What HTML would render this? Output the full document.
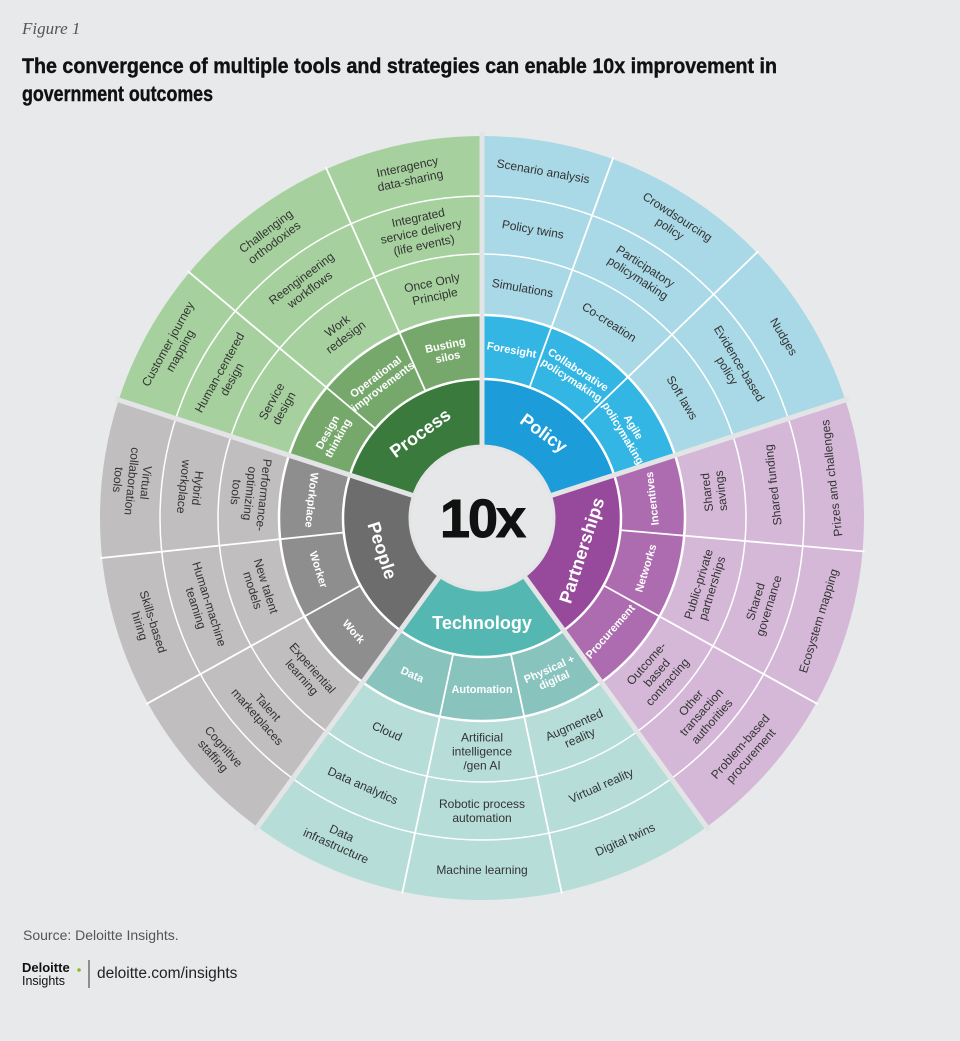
<!DOCTYPE html>
<html><head><meta charset="utf-8"><style>
html,body{margin:0;padding:0;background:#e8e9ea;}
svg{display:block;}
.o{font-family:"Liberation Sans",sans-serif;font-size:12px;fill:#333;text-anchor:middle;}
.s{font-family:"Liberation Sans",sans-serif;font-size:11px;font-weight:bold;fill:#fff;text-anchor:middle;}
.i{font-family:"Liberation Sans",sans-serif;font-size:18px;font-weight:bold;fill:#fff;text-anchor:middle;}
</style></head><body>
<svg width="960" height="1041" viewBox="0 0 960 1041" xmlns="http://www.w3.org/2000/svg">
<rect width="960" height="1041" fill="#e8e9ea"/>
<text x="22" y="34" font-family="Liberation Serif,serif" font-style="italic" font-size="17" fill="#555">Figure 1</text>
<text x="22" y="73" font-family="Liberation Sans,sans-serif" font-weight="bold" font-size="21" fill="#111" stroke="#111" stroke-width="0.4" textLength="755" lengthAdjust="spacingAndGlyphs">The convergence of multiple tools and strategies can enable 10x improvement in</text>
<text x="22" y="101" font-family="Liberation Sans,sans-serif" font-weight="bold" font-size="21" fill="#111" stroke="#111" stroke-width="0.4" textLength="191" lengthAdjust="spacingAndGlyphs">government outcomes</text>

<g fill="none">
<circle cx="482" cy="518" r="105" stroke="#3a7a3c" stroke-width="68" pathLength="360" stroke-dasharray="72 288" transform="rotate(198 482 518)"/>
<circle cx="482" cy="518" r="171" stroke="#76a86c" stroke-width="64" pathLength="360" stroke-dasharray="72 288" transform="rotate(198 482 518)"/>
<circle cx="482" cy="518" r="292.5" stroke="#a6d19e" stroke-width="179" pathLength="360" stroke-dasharray="72 288" transform="rotate(198 482 518)"/>
<circle cx="482" cy="518" r="105" stroke="#1c9cd8" stroke-width="68" pathLength="360" stroke-dasharray="72 288" transform="rotate(-90 482 518)"/>
<circle cx="482" cy="518" r="171" stroke="#33b6e3" stroke-width="64" pathLength="360" stroke-dasharray="72 288" transform="rotate(-90 482 518)"/>
<circle cx="482" cy="518" r="292.5" stroke="#a9d9e6" stroke-width="179" pathLength="360" stroke-dasharray="72 288" transform="rotate(-90 482 518)"/>
<circle cx="482" cy="518" r="105" stroke="#974a9c" stroke-width="68" pathLength="360" stroke-dasharray="72 288" transform="rotate(-18 482 518)"/>
<circle cx="482" cy="518" r="171" stroke="#ad6caf" stroke-width="64" pathLength="360" stroke-dasharray="72 288" transform="rotate(-18 482 518)"/>
<circle cx="482" cy="518" r="292.5" stroke="#d5b8d8" stroke-width="179" pathLength="360" stroke-dasharray="72 288" transform="rotate(-18 482 518)"/>
<circle cx="482" cy="518" r="105" stroke="#55b7b1" stroke-width="68" pathLength="360" stroke-dasharray="72 288" transform="rotate(54 482 518)"/>
<circle cx="482" cy="518" r="171" stroke="#88c3bd" stroke-width="64" pathLength="360" stroke-dasharray="72 288" transform="rotate(54 482 518)"/>
<circle cx="482" cy="518" r="292.5" stroke="#b6ddd8" stroke-width="179" pathLength="360" stroke-dasharray="72 288" transform="rotate(54 482 518)"/>
<circle cx="482" cy="518" r="105" stroke="#6d6d6d" stroke-width="68" pathLength="360" stroke-dasharray="72 288" transform="rotate(126 482 518)"/>
<circle cx="482" cy="518" r="171" stroke="#8e8e8e" stroke-width="64" pathLength="360" stroke-dasharray="72 288" transform="rotate(126 482 518)"/>
<circle cx="482" cy="518" r="292.5" stroke="#c0bebf" stroke-width="179" pathLength="360" stroke-dasharray="72 288" transform="rotate(126 482 518)"/>
<circle cx="482" cy="518" r="139" stroke="#fff" stroke-width="2.5"/>
<circle cx="482" cy="518" r="203" stroke="#fff" stroke-width="2.5"/>
<circle cx="482" cy="518" r="264" stroke="#fff" stroke-width="1.5"/>
<circle cx="482" cy="518" r="322" stroke="#fff" stroke-width="1.5"/>
</g>

<g stroke="#fff" stroke-width="1.8">
<line x1="482" y1="379" x2="482" y2="134" transform="rotate(310 482 518)"/>
<line x1="482" y1="379" x2="482" y2="134" transform="rotate(336 482 518)"/>
<line x1="482" y1="379" x2="482" y2="134" transform="rotate(20 482 518)"/>
<line x1="482" y1="379" x2="482" y2="134" transform="rotate(46 482 518)"/>
<line x1="482" y1="379" x2="482" y2="134" transform="rotate(95 482 518)"/>
<line x1="482" y1="379" x2="482" y2="134" transform="rotate(119 482 518)"/>
<line x1="482" y1="379" x2="482" y2="134" transform="rotate(168 482 518)"/>
<line x1="482" y1="379" x2="482" y2="134" transform="rotate(192 482 518)"/>
<line x1="482" y1="379" x2="482" y2="134" transform="rotate(241 482 518)"/>
<line x1="482" y1="379" x2="482" y2="134" transform="rotate(264 482 518)"/>
</g>
<g stroke="#e3e4e5" stroke-width="5">
<line x1="482" y1="447" x2="482" y2="132" transform="rotate(0 482 518)"/>
<line x1="482" y1="447" x2="482" y2="132" transform="rotate(72 482 518)"/>
<line x1="482" y1="447" x2="482" y2="132" transform="rotate(144 482 518)"/>
<line x1="482" y1="447" x2="482" y2="132" transform="rotate(216 482 518)"/>
<line x1="482" y1="447" x2="482" y2="132" transform="rotate(288 482 518)"/>
</g>
<circle cx="482" cy="518" r="72" fill="#e6e7e8" stroke="#e3e4e5" stroke-width="3"/>
<text x="482" y="537" font-family="Liberation Sans,sans-serif" font-weight="bold" font-size="54" fill="#111" stroke="#111" stroke-width="1" text-anchor="middle" letter-spacing="-2">10x</text>

<text class="i" transform="rotate(324 482 518) translate(482 413)" dy="6">Process</text>
<text class="i" transform="rotate(36 482 518) translate(482 413)" dy="6">Policy</text>
<text class="i" transform="rotate(108 482 518) translate(482 413) rotate(180)" dy="6">Partnerships</text>
<text class="i" transform="rotate(180 482 518) translate(482 413) rotate(180)" dy="6">Technology</text>
<text class="i" transform="rotate(252 482 518) translate(482 413) rotate(180)" dy="6">People</text>

<text class="s" transform="rotate(299 482 518) translate(482 347)"><tspan x="0" dy="-2">Design</tspan><tspan x="0" dy="12">thinking</tspan></text>
<text class="s" transform="rotate(323 482 518) translate(482 347)"><tspan x="0" dy="-2">Operational</tspan><tspan x="0" dy="12">improvements</tspan></text>
<text class="s" transform="rotate(348 482 518) translate(482 347)"><tspan x="0" dy="-2">Busting</tspan><tspan x="0" dy="12">silos</tspan></text>
<text class="s" transform="rotate(10 482 518) translate(482 347)" dy="4">Foresight</text>
<text class="s" transform="rotate(33 482 518) translate(482 347)"><tspan x="0" dy="-2">Collaborative</tspan><tspan x="0" dy="12">policymaking</tspan></text>
<text class="s" transform="rotate(59 482 518) translate(482 347)"><tspan x="0" dy="-2">Agile</tspan><tspan x="0" dy="12">policymaking</tspan></text>
<text class="s" transform="rotate(83.5 482 518) translate(482 347) rotate(180)" dy="4">Incentives</text>
<text class="s" transform="rotate(107 482 518) translate(482 347) rotate(180)" dy="4">Networks</text>
<text class="s" transform="rotate(131.5 482 518) translate(482 347) rotate(180)" dy="4">Procurement</text>
<text class="s" transform="rotate(156 482 518) translate(482 347) rotate(180)"><tspan x="0" dy="-2">Physical +</tspan><tspan x="0" dy="12">digital</tspan></text>
<text class="s" transform="rotate(180 482 518) translate(482 347) rotate(180)" dy="4">Automation</text>
<text class="s" transform="rotate(204 482 518) translate(482 347) rotate(180)" dy="4">Data</text>
<text class="s" transform="rotate(228.5 482 518) translate(482 347) rotate(180)" dy="4">Work</text>
<text class="s" transform="rotate(252.5 482 518) translate(482 347) rotate(180)" dy="4">Worker</text>
<text class="s" transform="rotate(276 482 518) translate(482 347) rotate(180)" dy="4">Workplace</text>

<text class="o" transform="rotate(299 482 518) translate(482 284.5)"><tspan x="0" dy="-3">Service</tspan><tspan x="0" dy="14">design</tspan></text>
<text class="o" transform="rotate(299 482 518) translate(482 225)"><tspan x="0" dy="-3">Human-centered</tspan><tspan x="0" dy="14">design</tspan></text>
<text class="o" transform="rotate(299 482 518) translate(482 166)"><tspan x="0" dy="-3">Customer journey</tspan><tspan x="0" dy="14">mapping</tspan></text>
<text class="o" transform="rotate(323 482 518) translate(482 284.5)"><tspan x="0" dy="-3">Work</tspan><tspan x="0" dy="14">redesign</tspan></text>
<text class="o" transform="rotate(323 482 518) translate(482 225)"><tspan x="0" dy="-3">Reengineering</tspan><tspan x="0" dy="14">workflows</tspan></text>
<text class="o" transform="rotate(323 482 518) translate(482 166)"><tspan x="0" dy="-3">Challenging</tspan><tspan x="0" dy="14">orthodoxies</tspan></text>
<text class="o" transform="rotate(348 482 518) translate(482 284.5)"><tspan x="0" dy="-3">Once Only</tspan><tspan x="0" dy="14">Principle</tspan></text>
<text class="o" transform="rotate(348 482 518) translate(482 225)"><tspan x="0" dy="-10">Integrated</tspan><tspan x="0" dy="14">service delivery</tspan><tspan x="0" dy="14">(life events)</tspan></text>
<text class="o" transform="rotate(348 482 518) translate(482 166)"><tspan x="0" dy="-3">Interagency</tspan><tspan x="0" dy="14">data-sharing</tspan></text>

<text class="o" transform="rotate(10 482 518) translate(482 284.5)" dy="4">Simulations</text>
<text class="o" transform="rotate(10 482 518) translate(482 225)" dy="4">Policy twins</text>
<text class="o" transform="rotate(10 482 518) translate(482 166)" dy="4">Scenario analysis</text>
<text class="o" transform="rotate(33 482 518) translate(482 284.5)" dy="4">Co-creation</text>
<text class="o" transform="rotate(33 482 518) translate(482 225)"><tspan x="0" dy="-3">Participatory</tspan><tspan x="0" dy="14">policymaking</tspan></text>
<text class="o" transform="rotate(33 482 518) translate(482 166)"><tspan x="0" dy="-3">Crowdsourcing</tspan><tspan x="0" dy="14">policy</tspan></text>
<text class="o" transform="rotate(59 482 518) translate(482 284.5)" dy="4">Soft laws</text>
<text class="o" transform="rotate(59 482 518) translate(482 225)"><tspan x="0" dy="-3">Evidence-based</tspan><tspan x="0" dy="14">policy</tspan></text>
<text class="o" transform="rotate(59 482 518) translate(482 166)" dy="4">Nudges</text>

<text class="o" transform="rotate(83.5 482 518) translate(482 284.5) rotate(180)"><tspan x="0" dy="-3">Shared</tspan><tspan x="0" dy="14">savings</tspan></text>
<text class="o" transform="rotate(83.5 482 518) translate(482 225) rotate(180)" dy="4">Shared funding</text>
<text class="o" transform="rotate(83.5 482 518) translate(482 166) rotate(180)" dy="4">Prizes and challenges</text>
<text class="o" transform="rotate(107 482 518) translate(482 284.5) rotate(180)"><tspan x="0" dy="-3">Public-private</tspan><tspan x="0" dy="14">partnerships</tspan></text>
<text class="o" transform="rotate(107 482 518) translate(482 225) rotate(180)"><tspan x="0" dy="-3">Shared</tspan><tspan x="0" dy="14">governance</tspan></text>
<text class="o" transform="rotate(107 482 518) translate(482 166) rotate(180)" dy="4">Ecosystem mapping</text>
<text class="o" transform="rotate(131.5 482 518) translate(482 284.5) rotate(180)"><tspan x="0" dy="-10">Outcome-</tspan><tspan x="0" dy="14">based</tspan><tspan x="0" dy="14">contracting</tspan></text>
<text class="o" transform="rotate(131.5 482 518) translate(482 225) rotate(180)"><tspan x="0" dy="-10">Other</tspan><tspan x="0" dy="14">transaction</tspan><tspan x="0" dy="14">authorities</tspan></text>
<text class="o" transform="rotate(131.5 482 518) translate(482 166) rotate(180)"><tspan x="0" dy="-3">Problem-based</tspan><tspan x="0" dy="14">procurement</tspan></text>

<text class="o" transform="rotate(156 482 518) translate(482 284.5) rotate(180)"><tspan x="0" dy="-3">Augmented</tspan><tspan x="0" dy="14">reality</tspan></text>
<text class="o" transform="rotate(156 482 518) translate(482 225) rotate(180)" dy="4">Virtual reality</text>
<text class="o" transform="rotate(156 482 518) translate(482 166) rotate(180)" dy="4">Digital twins</text>
<text class="o" transform="rotate(180 482 518) translate(482 284.5) rotate(180)"><tspan x="0" dy="-10">Artificial</tspan><tspan x="0" dy="14">intelligence</tspan><tspan x="0" dy="14">/gen AI</tspan></text>
<text class="o" transform="rotate(180 482 518) translate(482 225) rotate(180)"><tspan x="0" dy="-3">Robotic process</tspan><tspan x="0" dy="14">automation</tspan></text>
<text class="o" transform="rotate(180 482 518) translate(482 166) rotate(180)" dy="4">Machine learning</text>
<text class="o" transform="rotate(204 482 518) translate(482 284.5) rotate(180)" dy="4">Cloud</text>
<text class="o" transform="rotate(204 482 518) translate(482 225) rotate(180)" dy="4">Data analytics</text>
<text class="o" transform="rotate(204 482 518) translate(482 166) rotate(180)"><tspan x="0" dy="-3">Data</tspan><tspan x="0" dy="14">infrastructure</tspan></text>

<text class="o" transform="rotate(228.5 482 518) translate(482 284.5) rotate(180)"><tspan x="0" dy="-3">Experiential</tspan><tspan x="0" dy="14">learning</tspan></text>
<text class="o" transform="rotate(228.5 482 518) translate(482 225) rotate(180)"><tspan x="0" dy="-3">Talent</tspan><tspan x="0" dy="14">marketplaces</tspan></text>
<text class="o" transform="rotate(228.5 482 518) translate(482 166) rotate(180)"><tspan x="0" dy="-3">Cognitive</tspan><tspan x="0" dy="14">staffing</tspan></text>
<text class="o" transform="rotate(252.5 482 518) translate(482 284.5) rotate(180)"><tspan x="0" dy="-3">New talent</tspan><tspan x="0" dy="14">models</tspan></text>
<text class="o" transform="rotate(252.5 482 518) translate(482 225) rotate(180)"><tspan x="0" dy="-3">Human-machine</tspan><tspan x="0" dy="14">teaming</tspan></text>
<text class="o" transform="rotate(252.5 482 518) translate(482 166) rotate(180)"><tspan x="0" dy="-3">Skills-based</tspan><tspan x="0" dy="14">hiring</tspan></text>
<text class="o" transform="rotate(276 482 518) translate(482 284.5) rotate(180)"><tspan x="0" dy="-10">Performance-</tspan><tspan x="0" dy="14">optimizing</tspan><tspan x="0" dy="14">tools</tspan></text>
<text class="o" transform="rotate(276 482 518) translate(482 225) rotate(180)"><tspan x="0" dy="-3">Hybrid</tspan><tspan x="0" dy="14">workplace</tspan></text>
<text class="o" transform="rotate(276 482 518) translate(482 166) rotate(180)"><tspan x="0" dy="-10">Virtual</tspan><tspan x="0" dy="14">collaboration</tspan><tspan x="0" dy="14">tools</tspan></text>

<text x="23" y="940" font-family="Liberation Sans,sans-serif" font-size="14" fill="#555">Source: Deloitte Insights.</text>
<text x="22" y="972" font-family="Liberation Sans,sans-serif" font-weight="bold" font-size="13" fill="#111">Deloitte</text>
<circle cx="79" cy="970" r="1.8" fill="#86bc25"/>
<text x="22" y="985" font-family="Liberation Sans,sans-serif" font-size="13" fill="#111" textLength="43" lengthAdjust="spacingAndGlyphs">Insights</text>
<line x1="89" y1="960" x2="89" y2="988" stroke="#333" stroke-width="1"/>
<text x="97" y="978" font-family="Liberation Sans,sans-serif" font-size="15.5" fill="#222">deloitte.com/insights</text>
</svg>
</body></html>
